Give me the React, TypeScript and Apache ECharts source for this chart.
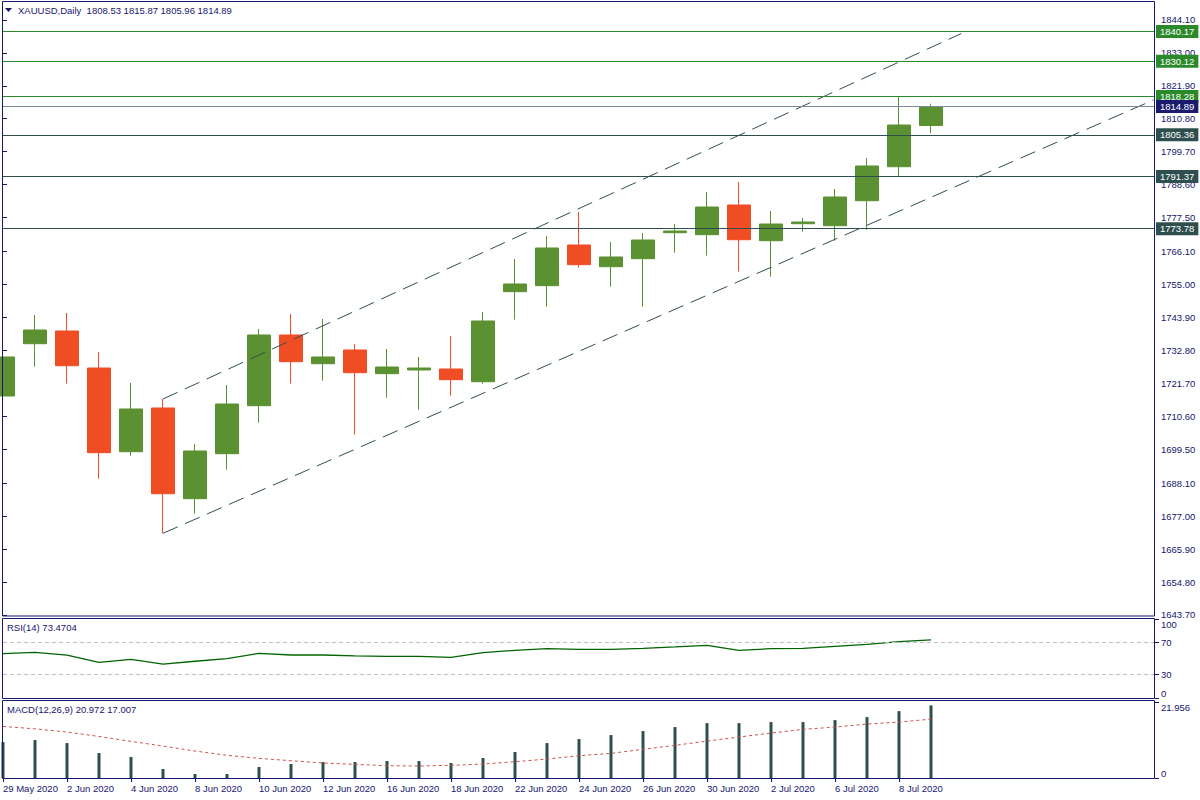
import React, { useEffect, useRef } from "react";
import * as echarts from "echarts";

const DATES = [
  "29 May 2020", "1 Jun 2020", "2 Jun 2020", "3 Jun 2020", "4 Jun 2020", "5 Jun 2020",
  "8 Jun 2020", "9 Jun 2020", "10 Jun 2020", "11 Jun 2020", "12 Jun 2020", "15 Jun 2020",
  "16 Jun 2020", "17 Jun 2020", "18 Jun 2020", "19 Jun 2020", "22 Jun 2020", "23 Jun 2020",
  "24 Jun 2020", "25 Jun 2020", "26 Jun 2020", "29 Jun 2020", "30 Jun 2020", "1 Jul 2020",
  "2 Jul 2020", "3 Jul 2020", "6 Jul 2020", "7 Jul 2020", "8 Jul 2020", "9 Jul 2020",
];
const EMPTY_SLOTS = ["", "", "", "", "", "", ""];

const OPEN = [1717.44, 1735.05, 1739.32, 1726.86, 1698.68, 1713.4, 1682.86, 1698.01, 1714.17, 1737.98, 1728.31, 1732.93, 1724.95, 1726.19, 1726.53, 1722.25, 1752.56, 1754.58, 1768.28, 1760.97, 1763.67, 1772.42, 1771.75, 1781.75, 1769.73, 1775.45, 1774.78, 1783.19, 1794.64, 1808.53];
const HIGH = [1737.98, 1744.71, 1745.38, 1732.25, 1721.81, 1716.43, 1701.28, 1721.14, 1740.0, 1745.05, 1743.36, 1734.95, 1733.26, 1730.57, 1737.64, 1745.72, 1763.57, 1771.31, 1779.39, 1769.29, 1772.32, 1775.35, 1786.12, 1789.49, 1779.73, 1777.37, 1787.13, 1797.57, 1818.28, 1815.87];
const LOW = [1712.96, 1727.3, 1721.58, 1689.59, 1697.34, 1671.21, 1677.81, 1692.62, 1708.45, 1721.58, 1722.59, 1704.41, 1716.86, 1712.82, 1717.54, 1721.58, 1743.13, 1747.5, 1760.64, 1754.24, 1747.5, 1765.69, 1764.68, 1759.29, 1757.61, 1772.76, 1769.73, 1773.43, 1791.37, 1805.96];
const CLOSE = [1730.57, 1739.66, 1727.64, 1698.35, 1713.06, 1684.54, 1698.92, 1714.74, 1737.98, 1728.99, 1730.57, 1725.28, 1727.2, 1726.86, 1722.93, 1742.69, 1755.15, 1767.27, 1761.65, 1764.24, 1769.96, 1772.99, 1781.07, 1770.06, 1775.35, 1776.02, 1784.44, 1794.88, 1808.68, 1814.89];

const RSI = [56.1, 57.8, 54.4, 45.2, 49.0, 43.0, 46.5, 49.8, 56.6, 54.4, 54.4, 53.2, 52.8, 52.8, 51.5, 57.4, 60.3, 62.4, 61.6, 61.6, 62.9, 64.6, 66.7, 60.3, 62.4, 62.9, 65.4, 68.0, 71.3, 73.4704];
const MACD_HIST = [10.38, 10.96, 10.1, 7.21, 6.06, 2.6, 1.15, 1.15, 3.17, 4.04, 4.61, 4.61, 4.9, 4.9, 4.33, 5.77, 7.5, 10.1, 11.25, 12.4, 13.56, 14.71, 15.86, 15.86, 16.15, 16.15, 16.73, 17.59, 19.32, 20.972];
const MACD_SIGNAL = [14.9, 14.2, 13.27, 12.0, 10.58, 9.23, 7.79, 6.55, 5.68, 4.99, 4.33, 3.94, 3.55, 3.46, 3.66, 4.04, 4.7, 5.48, 6.43, 7.12, 8.28, 9.43, 10.67, 11.83, 12.98, 14.05, 14.71, 15.58, 16.15, 17.007];

const PRICE_TICKS = [1844.1, 1833.0, 1821.9, 1810.8, 1799.7, 1788.6, 1777.5, 1766.1, 1755.0, 1743.9, 1732.8, 1721.7, 1710.6, 1699.5, 1688.1, 1677.0, 1665.9, 1654.8, 1643.7];
const RSI_TICKS = [0, 30, 70, 100];
const RSI_LEVELS = [30, 70];
const MACD_TICKS = [0, 21.956];

// horizontal price levels: value, kind
const LEVEL_VALUES = [1840.17, 1830.12, 1818.28, 1814.89, 1805.36, 1791.37, 1773.78];
const LEVEL_KINDS = ["green", "green", "green", "current", "dark", "dark", "dark"];

// channel lines: [slot index, price]
const CHANNEL_UPPER = [[5, 1716.43], [29.95, 1839.5]];
const CHANNEL_LOWER = [[5, 1671.21], [35.95, 1817.1]];

const HEADER = "XAUUSD,Daily  1808.53 1815.87 1805.96 1814.89";
const RSI_TITLE = "RSI(14) 73.4704";
const MACD_TITLE = "MACD(12,26,9) 20.972 17.007";

const NAVY = "#16166e";
const UP = "#5b9130";
const DOWN = "#f04d25";
const SLATE = "#2f4f4f";
const FONT = "Liberation Sans";
const FS = 9.5;

const KIND_STYLE: Record<string, { line: string; bg: string }> = {
  green: { line: "#2a8a2a", bg: "#2a8a2a" },
  current: { line: "#7a8a9a", bg: "#1b1b6e" },
  dark: { line: SLATE, bg: SLATE },
};

export default function App() {
  const ref = useRef<HTMLDivElement>(null);
  useEffect(() => {
    document.body.style.margin = "0";
    if (!ref.current) return;
    const chart = echarts.init(ref.current, null, { renderer: "svg" });
    const cats = DATES.concat(EMPTY_SLOTS);
    const candles = OPEN.map((o, i) => [o, CLOSE[i], LOW[i], HIGH[i]]);
    const levels = LEVEL_VALUES.map((v, i) => {
      const st = KIND_STYLE[LEVEL_KINDS[i]];
      return {
        yAxis: v,
        lineStyle: { color: st.line, type: "solid", width: 1 },
        label: {
          show: true,
          position: "end",
          distance: 1,
          formatter: v.toFixed(2),
          color: "#ffffff",
          backgroundColor: st.bg,
          padding: [2, 4, 1, 4],
          fontSize: FS,
          fontFamily: FONT,
        },
      };
    });
    const catAxisHidden = (gridIndex: number) => ({
      type: "category",
      gridIndex,
      data: cats,
      boundaryGap: false,
      axisLine: { show: false },
      axisTick: { show: false },
      axisLabel: { show: false },
      splitLine: { show: false },
    });
    const labelInterval = (index: number, value: string) => value !== "" && index % 2 === 0;
    const option: any = {
      animation: false,
      backgroundColor: "#ffffff",
      grid: [
        { left: 3, top: 2, width: 1152, height: 614 },
        { left: 3, top: 619, width: 1152, height: 79 },
        { left: 3, top: 702, width: 1152, height: 76 },
      ],
      xAxis: [
        catAxisHidden(0),
        { type: "value", gridIndex: 0, min: 0, max: 36, show: false },
        catAxisHidden(1),
        {
          type: "category",
          gridIndex: 2,
          data: cats,
          boundaryGap: false,
          axisLine: { show: false },
          axisTick: { show: true, length: 4, interval: labelInterval, lineStyle: { color: NAVY } },
          axisLabel: {
            show: true,
            interval: labelInterval,
            align: "left",
            margin: 5,
            color: NAVY,
            fontSize: FS,
            fontFamily: FONT,
          },
          splitLine: { show: false },
        },
      ],
      yAxis: [
        {
          type: "value",
          gridIndex: 0,
          position: "right",
          min: 1643.36,
          max: 1850.1,
          splitLine: { show: false },
          axisLine: { show: false },
          axisTick: { show: true, length: 4, lineStyle: { color: NAVY }, customValues: PRICE_TICKS },
          axisLabel: {
            customValues: PRICE_TICKS,
            formatter: (v: number) => v.toFixed(2),
            color: NAVY,
            fontSize: FS,
            fontFamily: FONT,
            margin: 6,
          },
        },
        {
          type: "value",
          gridIndex: 1,
          position: "right",
          min: 0,
          max: 100,
          splitLine: { show: false },
          axisLine: { show: false },
          axisTick: { show: true, length: 4, lineStyle: { color: NAVY }, customValues: RSI_TICKS },
          axisLabel: {
            customValues: RSI_TICKS,
            color: NAVY,
            fontSize: FS,
            fontFamily: FONT,
            margin: 6,
            verticalAlignMaxLabel: "top",
            verticalAlignMinLabel: "bottom",
          },
        },
        {
          type: "value",
          gridIndex: 2,
          position: "right",
          min: 0,
          max: 21.956,
          splitLine: { show: false },
          axisLine: { show: false },
          axisTick: { show: true, length: 4, lineStyle: { color: NAVY }, customValues: MACD_TICKS },
          axisLabel: {
            customValues: MACD_TICKS,
            formatter: (v: number) => (v === 0 ? "0" : v.toFixed(3)),
            color: NAVY,
            fontSize: FS,
            fontFamily: FONT,
            margin: 6,
            verticalAlignMaxLabel: "top",
            verticalAlignMinLabel: "bottom",
          },
        },
      ],
      series: [
        {
          type: "candlestick",
          xAxisIndex: 0,
          yAxisIndex: 0,
          data: candles,
          barWidth: 24,
          clip: true,
          itemStyle: {
            color: UP,
            color0: DOWN,
            borderColor: UP,
            borderColor0: DOWN,
            borderWidth: 1,
          },
          markLine: {
            silent: true,
            symbol: ["none", "none"],
            animation: false,
            data: levels,
          },
        },
        {
          type: "line",
          xAxisIndex: 1,
          yAxisIndex: 0,
          data: CHANNEL_UPPER,
          symbol: "none",
          silent: true,
          lineStyle: { color: SLATE, width: 1, type: [16, 8] },
        },
        {
          type: "line",
          xAxisIndex: 1,
          yAxisIndex: 0,
          data: CHANNEL_LOWER,
          symbol: "none",
          silent: true,
          lineStyle: { color: SLATE, width: 1, type: [16, 8] },
        },
        {
          type: "line",
          xAxisIndex: 2,
          yAxisIndex: 1,
          data: RSI,
          symbol: "none",
          silent: true,
          lineStyle: { color: "#006400", width: 1.3 },
          markLine: {
            silent: true,
            symbol: ["none", "none"],
            label: { show: false },
            lineStyle: { color: "#c0c0c0", type: [4, 3], width: 1 },
            data: RSI_LEVELS.map((v) => ({ yAxis: v })),
          },
        },
        {
          type: "bar",
          xAxisIndex: 3,
          yAxisIndex: 2,
          data: MACD_HIST,
          barWidth: 3,
          silent: true,
          itemStyle: { color: SLATE },
        },
        {
          type: "line",
          xAxisIndex: 3,
          yAxisIndex: 2,
          data: MACD_SIGNAL,
          symbol: "none",
          silent: true,
          lineStyle: { color: "#d0504a", width: 1, type: [3, 3] },
        },
      ],
      graphic: [
        { type: "rect", z: 100, silent: true, shape: { x: 2.5, y: 1.5, width: 1152, height: 614.5 }, style: { fill: "none", stroke: NAVY, lineWidth: 1 } },
        { type: "rect", z: 100, silent: true, shape: { x: 2.5, y: 618.5, width: 1152, height: 80 }, style: { fill: "none", stroke: NAVY, lineWidth: 1 } },
        { type: "rect", z: 100, silent: true, shape: { x: 2.5, y: 700.5, width: 1152, height: 78 }, style: { fill: "none", stroke: NAVY, lineWidth: 1 } },
        { type: "polygon", z: 100, silent: true, shape: { points: [[5, 8], [12, 8], [8.5, 12]] }, style: { fill: NAVY } },
        { type: "text", z: 100, silent: true, x: 18, y: 5, style: { text: HEADER, fill: NAVY, fontSize: FS, fontFamily: FONT, whiteSpace: "pre" } },
        { type: "text", z: 100, silent: true, x: 7, y: 622, style: { text: RSI_TITLE, fill: NAVY, fontSize: FS, fontFamily: FONT } },
        { type: "text", z: 100, silent: true, x: 7, y: 704, style: { text: MACD_TITLE, fill: NAVY, fontSize: FS, fontFamily: FONT } },
      ],
    };
    chart.setOption(option);
    return () => chart.dispose();
  }, []);
  return <div ref={ref} style={{ width: 1200, height: 800 }} />;
}
